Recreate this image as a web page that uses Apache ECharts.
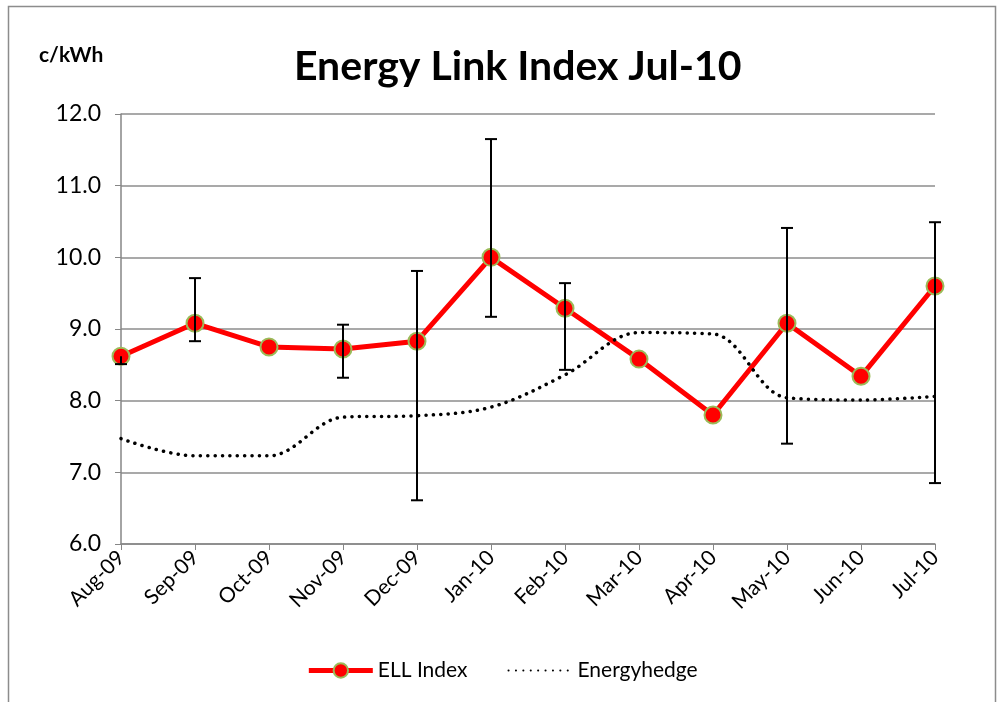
<!DOCTYPE html>
<html><head><meta charset="utf-8">
<script src="https://cdn.jsdelivr.net/npm/echarts@6/dist/echarts.min.js"></script>
<style>html,body{margin:0;padding:0;background:#fff}#c{width:1004px;height:702px}</style>
</head><body><div id="c"></div>
<script>
const categories = ['Aug-09','Sep-09','Oct-09','Nov-09','Dec-09','Jan-10','Feb-10','Mar-10','Apr-10','May-10','Jun-10','Jul-10'];
const ellIndex = [8.62, 9.08, 8.75, 8.72, 8.83, 10.0, 9.29, 8.58, 7.80, 9.08, 8.34, 9.60];
const errLow  = [8.51, 8.83, null, 8.32, 6.61, 9.17, 8.43, null, null, 7.40, null, 6.85];
const errHigh = [8.62, 9.71, null, 9.06, 9.81, 11.65, 9.64, null, null, 10.41, null, 10.49];
const energyhedge = [7.47, 7.23, 7.23, 7.77, 7.79, 7.91, 8.36, 8.95, 8.93, 8.04, 8.01, 8.06];
const yTicks = [6, 7, 8, 9, 10, 11, 12];

const FONT = 'Lato';
const errData = categories.map((c, i) => [i, errLow[i], errHigh[i], ellIndex[i]]).filter(d => d[1] != null);

const chart = echarts.init(document.getElementById('c'));
chart.setOption({
  animation: false,
  textStyle: { fontFamily: FONT },
  graphic: [
    { type: 'rect', shape: { x: 8.5, y: 6.5, width: 987, height: 720 }, style: { fill: 'none', stroke: '#8c8c8c', lineWidth: 1.5 }, silent: true, z: -10 },
    { type: 'text', left: 39, top: 45, style: { text: 'c/kWh', font: 'bold 21px ' + FONT, fill: '#000' } }
  ],
  title: {
    text: 'Energy Link Index Jul-10', left: 289, top: 41,
    textStyle: { fontFamily: FONT, fontWeight: 'bold', fontSize: 41, color: '#000' }
  },
  legend: {
    bottom: 16, left: 'center', itemGap: 40, itemWidth: 64, itemHeight: 18,
    textStyle: { fontFamily: FONT, fontSize: 21, color: '#000' },
    data: [
      { name: 'ELL Index', lineStyle: { width: 5 } },
      { name: 'Energyhedge', itemStyle: { opacity: 0 } }
    ]
  },
  grid: { left: 121, right: 69, top: 114, bottom: 158 },
  xAxis: {
    type: 'category', data: categories, boundaryGap: false,
    axisLine: { lineStyle: { color: '#868686', width: 1.5 } },
    axisTick: { show: true, alignWithLabel: true, length: 6, lineStyle: { color: '#868686' } },
    axisLabel: { rotate: 45, fontSize: 21, color: '#000', margin: 10, fontFamily: FONT, interval: 0 },
    splitLine: { show: false }
  },
  yAxis: {
    type: 'value', min: 6, max: 12, interval: 1,
    axisLine: { show: true, lineStyle: { color: '#868686', width: 1.5 } },
    axisTick: { show: true, length: 6, lineStyle: { color: '#868686' } },
    axisLabel: { fontSize: 23, color: '#000', margin: 20, fontFamily: FONT,
      formatter: v => yTicks.includes(v) ? v.toFixed(1) : '' },
    splitLine: { lineStyle: { color: '#8c8c8c', width: 1.5 } }
  },
  series: [
    {
      name: 'ELL Index', type: 'line', data: ellIndex, z: 3,
      symbol: 'circle', symbolSize: 17,
      lineStyle: { color: '#ff0000', width: 5 },
      itemStyle: { color: '#ff0000', borderColor: '#9bbb59', borderWidth: 2 }
    },
    {
      name: 'Energyhedge', type: 'line', data: energyhedge, z: 4,
      smooth: 0.35, symbol: 'none',
      lineStyle: { color: '#000', width: 3.5, type: [0.1, 7.3], cap: 'round' },
      itemStyle: { color: '#000' }
    },
    {
      name: 'err', type: 'custom', z: 5, data: errData, clip: false,
      renderItem: function (params, api) {
        const x = api.value(0);
        const v = api.value(3);
        const lo = api.coord([x, api.value(1)]);
        const hi = api.coord([x, api.value(2)]);
        const w = 6;
        const style = { stroke: '#000', lineWidth: 2 };
        const children = [
          { type: 'line', shape: { x1: lo[0], y1: lo[1], x2: hi[0], y2: hi[1] }, style }
        ];
        if (api.value(1) !== v) children.push({ type: 'line', shape: { x1: lo[0] - w, y1: lo[1], x2: lo[0] + w, y2: lo[1] }, style });
        if (api.value(2) !== v) children.push({ type: 'line', shape: { x1: hi[0] - w, y1: hi[1], x2: hi[0] + w, y2: hi[1] }, style });
        return { type: 'group', children };
      },
      encode: { x: 0, y: [1, 2] }
    }
  ]
});
</script></body></html>
